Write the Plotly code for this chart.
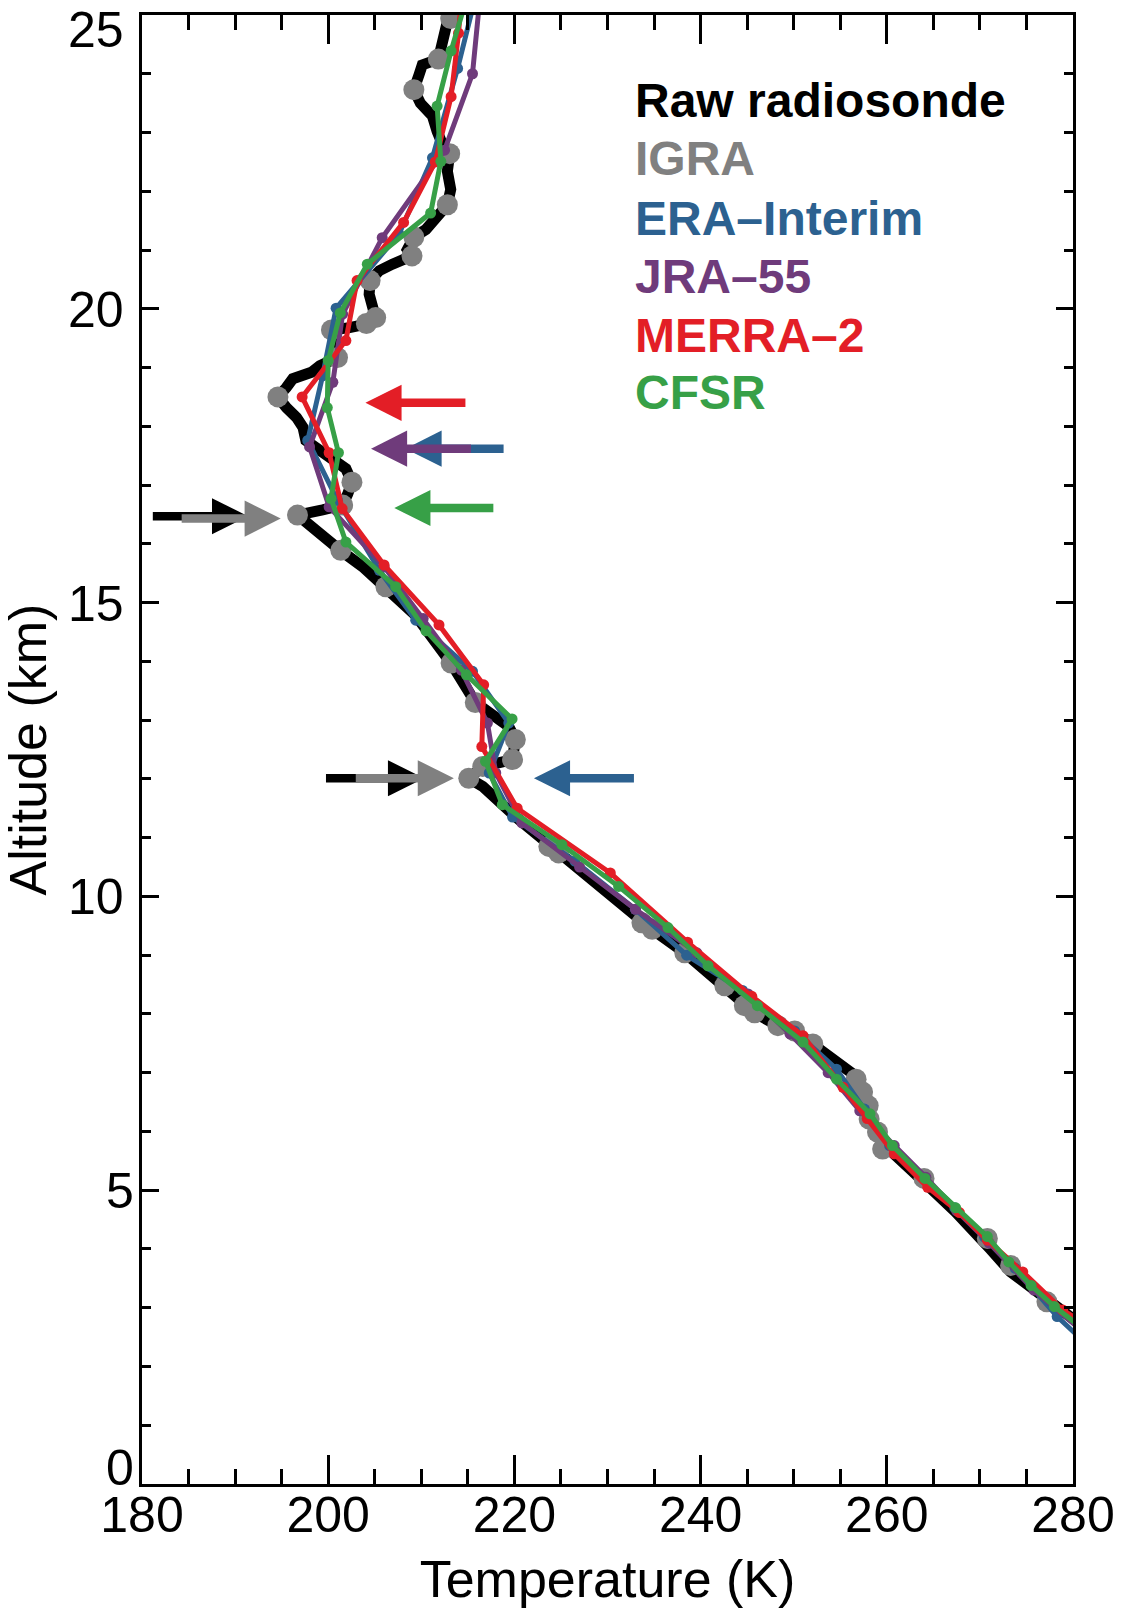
import plotly.graph_objects as go

# ---------------- data ----------------
raw_T = [280.6, 276.9, 273.3, 271.1, 267.4, 264.0, 260.8, 259.4, 258.1, 257.8, 257.4, 256.6,
         254.4, 252.0, 250.1, 248.3, 245.8, 242.6, 238.3, 234.8, 230.0, 226.3, 224.75, 220.1,
         216.6, 215.1, 216.6, 219.8, 220.1, 219.4, 215.8, 213.2, 209.4, 206.2, 203.7, 201.3,
         200.1, 198.2, 196.7, 199.4, 201.55, 202.1, 202.55, 201.9, 200.5, 199.2, 197.6, 197.3,
         196.6, 195.5, 194.6, 195.5, 196.2, 198.2, 199.1, 201.0, 200.6, 200.35, 202.3, 204.1,
         205.1, 204.8, 204.4, 204.5, 205.5, 206.9, 209.0, 208.5, 209.2, 210.5, 211.7, 212.8,
         213.16, 212.8, 213.05, 212.27, 211.7, 211.2, 209.9, 209.2, 209.75, 210.1, 211.84, 212.27,
         212.6, 212.8, 213.87, 214.2]
raw_Z = [2.74, 3.16, 3.61, 4.0, 4.63, 5.14, 5.59, 5.82, 6.21, 6.41, 6.67, 6.95,
         7.23, 7.49, 7.71, 7.8, 8.02, 8.48, 9.04, 9.44, 10.06, 10.53, 10.74, 11.36,
         11.87, 12.01, 12.21, 12.33, 12.67, 12.89, 13.3, 13.97, 14.78, 15.27, 15.61, 15.89,
         16.06, 16.29, 16.49, 16.58, 16.66, 16.85, 17.05, 17.28, 17.45, 17.62, 17.76, 17.98,
         18.15, 18.32, 18.5, 18.66, 18.81, 18.92, 19.03, 19.17, 19.4, 19.64, 19.68, 19.74,
         19.84, 20.02, 20.25, 20.48, 20.65, 20.76, 20.9, 21.01, 21.22, 21.35, 21.55, 21.77,
         22.03, 22.34, 22.64, 22.8, 23.02, 23.28, 23.5, 23.73, 23.98, 24.15, 24.25, 24.49,
         24.66, 24.89, 25.07, 25.3]

igra_T = [213.16, 211.83, 209.2, 213.05, 212.8, 209.2, 209.0, 204.5, 205.1, 204.1, 200.35, 201.0,
          194.6, 202.55, 201.55, 196.7, 201.35, 206.2, 213.2, 215.8, 220.1, 219.8, 216.6, 215.1,
          223.7, 224.75, 233.7, 234.8, 238.3, 242.6, 244.7, 245.8, 248.3, 250.1, 252.05, 256.7,
          257.4, 258.0, 258.1, 259.0, 259.55, 264.0, 270.8, 273.3, 277.2]
igra_Z = [24.94, 24.25, 23.73, 22.64, 21.77, 21.22, 20.9, 20.48, 19.85, 19.75, 19.64, 19.17,
          18.5, 17.05, 16.66, 16.49, 15.89, 15.27, 13.97, 13.3, 12.67, 12.33, 12.21, 12.01,
          10.85, 10.74, 9.55, 9.44, 9.04, 8.48, 8.14, 8.02, 7.8, 7.71, 7.49, 6.89,
          6.67, 6.44, 6.21, 5.99, 5.7, 5.2, 4.18, 3.72, 3.1]

era_T = [281.0, 278.3, 273.8, 270.5, 267.3, 264.0, 260.3, 257.6, 254.6, 250.1, 244.5, 238.5,
         233.0, 226.5, 219.8, 217.3, 219.4, 215.5, 209.4, 205.5, 201.0, 197.8, 199.4, 200.85,
         207.6, 211.2, 213.9, 215.8]
era_Z = [2.45, 2.85, 3.67, 4.2, 4.7, 5.22, 5.76, 6.38, 7.06, 7.71, 8.4, 9.0,
         9.78, 10.6, 11.35, 12.1, 12.95, 13.83, 14.7, 15.55, 16.74, 17.76, 18.86, 20.01,
         21.27, 22.57, 24.09, 25.3]

jra_T = [281.0, 275.8, 271.0, 267.5, 264.2, 260.8, 257.1, 253.7, 249.6, 245.1, 239.6, 233.0,
         227.0, 220.8, 218.0, 217.1, 214.3, 210.2, 206.0, 200.1, 198.0, 200.5, 201.55, 205.8,
         212.5, 215.5, 216.3]
jra_Z = [2.6, 3.3, 4.1, 4.65, 5.22, 5.76, 6.35, 7.0, 7.66, 8.34, 9.04, 9.78,
         10.5, 11.25, 12.1, 12.95, 13.85, 14.73, 15.61, 16.63, 17.65, 18.75, 19.91, 21.21,
         22.7, 24.0, 25.3]

merra_T = [281.0, 278.9, 274.6, 270.8, 267.8, 264.4, 260.8, 257.9, 255.3, 251.0, 245.5, 238.6,
           230.3, 220.3, 216.5, 216.7, 211.9, 206.0, 201.5, 200.1, 197.2, 201.9, 203.1, 208.1,
           211.5, 213.2, 214.0, 214.3]
merra_Z = [2.75, 2.96, 3.61, 4.15, 4.62, 5.05, 5.62, 6.22, 6.75, 7.63, 8.3, 9.22,
           10.4, 11.5, 12.55, 13.6, 14.62, 15.64, 16.6, 17.55, 18.5, 19.46, 20.48, 21.47,
           22.5, 23.61, 24.69, 25.3]

cfsr_T = [281.0, 278.0, 275.5, 273.1, 270.8, 267.4, 264.1, 260.6, 258.2, 254.6, 251.0, 246.1,
          240.8, 236.5, 231.2, 225.1, 218.7, 216.9, 219.75, 214.85, 210.5, 207.25, 201.9, 200.3,
          201.1, 199.9, 200.0, 201.3, 204.2, 211.0, 212.1, 211.7, 213.2, 214.9]
cfsr_Z = [2.65, 3.02, 3.38, 3.78, 4.21, 4.7, 5.2, 5.76, 6.3, 6.89, 7.52, 8.14,
          8.82, 9.47, 10.17, 10.88, 11.56, 12.3, 13.02, 13.77, 14.52, 15.27, 16.03, 16.77,
          17.55, 18.32, 19.12, 19.93, 20.76, 21.63, 22.51, 23.45, 24.39, 25.3]

# tropopause arrows: tail temperature, tip temperature, altitude, colour key
arrow_tail_T = [181.0, 184.1, 214.9, 219.0, 215.5, 217.9, 199.6, 202.8, 233.0]
arrow_tip_T  = [191.4, 194.9, 204.0, 208.3, 204.6, 207.1, 210.3, 213.5, 222.1]
arrow_Z      = [16.47, 16.43, 18.40, 17.62, 17.62, 16.61, 12.01, 12.01, 12.01]
arrow_key    = ["raw", "igra", "merra", "era", "jra", "cfsr", "raw", "igra", "era"]

legend_names = ["Raw radiosonde", "IGRA", "ERA\u2013Interim", "JRA\u201355", "MERRA\u20132", "CFSR"]
legend_keys = ["raw", "igra", "era", "jra", "merra", "cfsr"]

x_ticks = [180, 200, 220, 240, 260, 280]
y_ticks = [0, 5, 10, 15, 20, 25]

colors = {"raw": "#000000", "igra": "#808080", "era": "#2c6190",
          "jra": "#6f3b7b", "merra": "#e31e26", "cfsr": "#37a047"}

FONT = "Liberation Sans, Arial, Helvetica, sans-serif"

fig = go.Figure()

fig.add_trace(go.Scatter(x=raw_T, y=raw_Z, mode="lines",
                         line=dict(color=colors["raw"], width=11), name="Raw radiosonde"))
fig.add_trace(go.Scatter(x=igra_T, y=igra_Z, mode="markers",
                         marker=dict(color=colors["igra"], size=21, line=dict(width=0)), name="IGRA"))
for key, T, Z in [("era", era_T, era_Z), ("jra", jra_T, jra_Z),
                  ("merra", merra_T, merra_Z), ("cfsr", cfsr_T, cfsr_Z)]:
    fig.add_trace(go.Scatter(x=T, y=Z, mode="lines+markers",
                             line=dict(color=colors[key], width=5),
                             marker=dict(color=colors[key], size=11, line=dict(width=0)),
                             name=key))

annotations = []
for tail, tip, z, key in zip(arrow_tail_T, arrow_tip_T, arrow_Z, arrow_key):
    annotations.append(dict(x=tip, y=z, ax=tail, ay=z, xref="x", yref="y", axref="x", ayref="y",
                            text="", showarrow=True, arrowhead=2, arrowsize=0.85,
                            arrowwidth=8.5, arrowcolor=colors[key]))

# legend text
leg_top_px = [98.5, 157.0, 217.0, 275.5, 334.5, 392.0]
for name, key, py in zip(legend_names, legend_keys, leg_top_px):
    annotations.append(dict(x=(635 - 142) / 934, y=1 - (py - 13) / 1473, xref="paper", yref="paper",
                            xanchor="left", yanchor="middle", showarrow=False,
                            text="<b>%s</b>" % name,
                            font=dict(family=FONT, size=48, color=colors[key])))

# y tick labels (kept inside the axis range as in the original)
for v in y_ticks:
    if v == 25:
        ya, ys = "top", 15
    elif v == 0:
        ya, ys = "bottom", -14
    else:
        ya, ys = "middle", -1
    xs = -6 if v < 10 else -16
    annotations.append(dict(x=0, y=v, xref="paper", yref="y", xanchor="right", yanchor=ya,
                            xshift=xs, yshift=ys, showarrow=False, text=str(v),
                            font=dict(family=FONT, size=50, color="black")))

annotations.append(dict(x=0, y=0.5, xref="paper", yref="paper", xanchor="center", yanchor="middle",
                        xshift=-115, showarrow=False, text="Altitude (km)", textangle=-90,
                        font=dict(family=FONT, size=52, color="black")))

fig.update_layout(
    width=1127, height=1610,
    margin=dict(l=142, r=51, t=13, b=124),
    plot_bgcolor="white", paper_bgcolor="white",
    showlegend=False,
    annotations=annotations,
    font=dict(family=FONT, color="black"),
)
fig.update_xaxes(range=[180, 280], tickvals=x_ticks, ticktext=[str(t) for t in x_ticks],
                 ticks="inside", ticklen=29, tickwidth=2.5, tickcolor="black",
                 minor=dict(dtick=5, ticks="inside", ticklen=15, tickwidth=2.5, tickcolor="black"),
                 showline=True, linewidth=3, linecolor="black", mirror="ticks",
                 showgrid=False, zeroline=False, ticklabelstandoff=-15,
                 tickfont=dict(family=FONT, size=50, color="black"),
                 title=dict(text="Temperature (K)", font=dict(family=FONT, size=52, color="black"),
                            standoff=19))
fig.update_yaxes(range=[0, 25], tickvals=y_ticks, showticklabels=False,
                 ticks="inside", ticklen=17, tickwidth=2.5, tickcolor="black",
                 minor=dict(dtick=1, ticks="inside", ticklen=9, tickwidth=2.5, tickcolor="black"),
                 showline=True, linewidth=3, linecolor="black", mirror="ticks",
                 showgrid=False, zeroline=False)

fig.write_html("out.html", config={"displayModeBar": False},
               post_script="document.body.style.margin='0';")
